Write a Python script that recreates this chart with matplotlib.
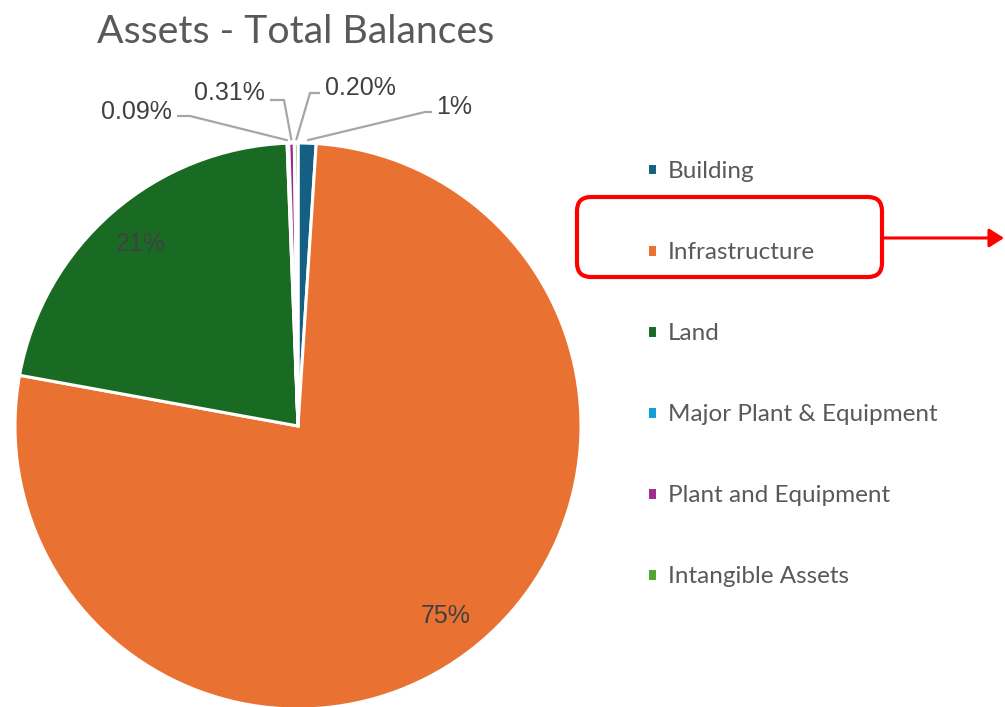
import matplotlib
matplotlib.use("Agg")
import matplotlib.pyplot as plt
import numpy as np
from matplotlib.patches import FancyBboxPatch, FancyArrowPatch

# data (share of total balances, %)
categories = ["Building", "Infrastructure", "Land", "Major Plant & Equipment",
              "Plant and Equipment", "Intangible Assets"]
shares = [1, 75, 21, 0.09, 0.31, 0.20]
colors = ["#156082", "#E97132", "#196B24", "#0F9ED5", "#A02B93", "#4EA72E"]

W, H = 1005, 707
CX, CY, R = 298, 426, 283
LABEL_INK, LEGEND_INK, LEADER = "#404040", "#595959", "#A6A6A6"


def pct(v):
    return f"{v:.2f}%" if v < 1 else f"{v:.0f}%"


def px(x, y):
    # pixel position -> pie data coords
    return (x - CX) / R, (CY - y) / R


fig = plt.figure(figsize=(W / 100, H / 100), dpi=100)
ax = fig.add_axes([(CX - R) / W, (H - CY - R) / H, 2 * R / W, 2 * R / H])
wedges, _ = ax.pie(shares, colors=colors, startangle=90, counterclock=False,
                   radius=1, wedgeprops=dict(edgecolor="white", linewidth=2.2))
ax.set_xlim(-1, 1); ax.set_ylim(-1, 1); ax.set_aspect("equal")
ax.axis("off")

# mid angles (math convention) of every slice
cum = np.cumsum([0] + shares) / sum(shares) * 360
mids = np.radians(90 - (cum[:-1] + cum[1:]) / 2)

# inside labels for the large slices
for i in (1, 2):
    ax.text(0.85 * np.cos(mids[i]), 0.85 * np.sin(mids[i]), pct(shares[i]),
            ha="center", va="center", fontsize=18, color=LABEL_INK,
            family="Liberation Sans")

# outside labels with leader lines: (text pos, ha, line start, elbow)
outside = {
    3: ((172, 112), "right", (177, 116), (190, 116)),
    4: ((265, 93), "right", (270, 100), (284, 100)),
    5: ((325, 88), "left", (320, 93), (310, 93)),
    0: ((436, 107), "left", (432, 112), (425, 112)),
}
for i, (tpos, ha, start, elbow) in outside.items():
    ex, ey = 1.01 * np.cos(mids[i]), 1.01 * np.sin(mids[i])
    xs = [px(*start)[0], px(*elbow)[0], ex]
    ys = [px(*start)[1], px(*elbow)[1], ey]
    ax.plot(xs, ys, color=LEADER, lw=1.6, clip_on=False, solid_capstyle="butt")
    tx, ty = px(*tpos)
    ax.text(tx, ty, pct(shares[i]), ha=ha, va="center", fontsize=18,
            color=LABEL_INK, family="Liberation Sans", clip_on=False)

# overlay in pixel coords for title, legend, highlight box and arrow
ov = fig.add_axes([0, 0, 1, 1], zorder=5)
ov.set_xlim(0, W); ov.set_ylim(H, 0); ov.axis("off")
ov.text(97, 43, "Assets - Total Balances", ha="left", va="baseline",
        fontsize=28.3, color=LEGEND_INK, family="Lato")

leg = ov.legend(wedges, categories, loc="upper left",
                bbox_to_anchor=(625 / W, 1 - 139 / H), frameon=False,
                handlelength=0.42, handleheight=0.42,
                handletextpad=0.45, labelspacing=2.47,
                prop=dict(family="Lato", size=17.5))
for t in leg.get_texts():
    t.set_color(LEGEND_INK)

ov.add_patch(FancyBboxPatch((577, 197), 305, 80,
             boxstyle="round,pad=0,rounding_size=14", fill=False,
             edgecolor="#FF0000", linewidth=3))
ov.add_patch(FancyArrowPatch((882, 238), (1004, 238),
             arrowstyle="-|>,head_length=0.55,head_width=0.35",
             mutation_scale=16, color="#FF0000", linewidth=2.2,
             shrinkA=0, shrinkB=0))

fig.savefig("out.png", dpi=100)
